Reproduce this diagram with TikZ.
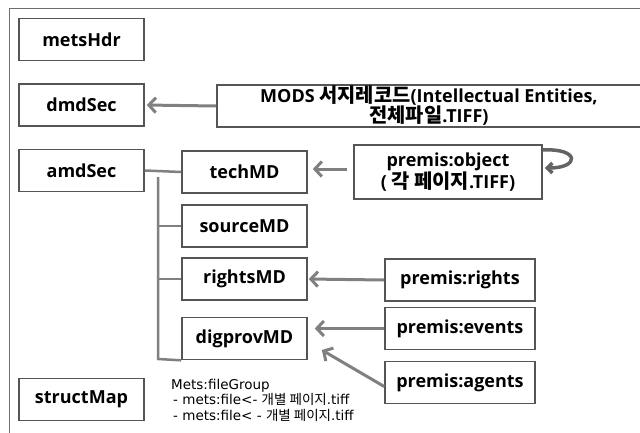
\documentclass[tikz,border=0pt]{standalone}
\usepackage{fontspec}
\setmainfont{Open Sans}
\newfontfamily\smallfont{DejaVu Sans}
\newfontfamily\cjk{Noto Sans CJK KR}
\newfontfamily\cjkb[Scale=1.1]{Noto Sans CJK KR Bold}
\usetikzlibrary{arrows.meta}
\definecolor{boxgray}{RGB}{85,85,85}
\definecolor{arrgray}{RGB}{128,128,128}
\definecolor{framegray}{RGB}{110,110,110}
\definecolor{loopgray}{RGB}{100,100,100}
\begin{document}
\begin{tikzpicture}[x=1pt,y=-1pt,
  box/.style={draw=boxgray, line width=1.6pt, minimum width=125pt, minimum height=42pt,
    inner sep=0pt, font=\fontsize{18}{21}\selectfont\bfseries, align=center},
  pbox/.style={box, minimum width=150pt},
  arr/.style={draw=arrgray, line width=3pt, -{Straight Barb[length=7pt,width=15pt]}},
  tree/.style={draw=arrgray, line width=2.5pt},
  small/.style={font=\smallfont\fontsize{13.5}{15.5}\selectfont, align=left, inner sep=0pt, anchor=base west}]
\useasboundingbox (0,0) rectangle (640,432);
\clip (0,0) rectangle (640,432);
% outer frame
\draw[framegray, line width=1pt] (9,460) -- (9,8) -- (660,8);
% left column
\node[box] (hdr) at (81.5,39.5) {metsHdr};
\node[box] (dmd) at (81.5,105) {dmdSec};
\node[box] (amd) at (81.5,170.5) {amdSec};
\node[box] (smap) at (81.5,399.5) {structMap};
% middle column
\node[box] (tech) at (244.5,172) {techMD};
\node[box] (src) at (244.5,226) {sourceMD};
\node[box] (rts) at (244.5,279) {rightsMD};
\node[box] (dig) at (244.5,338.5) {digprovMD};
% MODS box (extends past right edge)
\node[draw=boxgray, line width=1.6pt, minimum width=486pt, minimum height=42pt, inner sep=0pt] (modsbox) at (460,106) {};
\node[font=\fontsize{18}{20}\selectfont\bfseries, align=center, inner sep=0pt] (mods) at (429,106)
  {MODS {\cjkb 서지레코드}(Intellectual Entities,\\{\cjkb 전체파일}.TIFF)};
% premis boxes
\node[box, minimum width=188pt, minimum height=54pt, font=\fontsize{18}{20}\selectfont\bfseries] (pobj) at (448,172) {premis:object\\( {\cjkb 각 페이지}.TIFF)};
\node[pbox] (prts) at (460,280) {premis:rights};
\node[pbox] (pev) at (460,328.5) {premis:events};
\node[pbox] (pag) at (460,382.5) {premis:agents};
% tree
\coordinate (trunk) at (158,177);
\coordinate (trunkend) at (158,359);
\draw[tree] (amd.east) -- (tech.west);
\draw[tree] (trunk) -- (trunkend) -- (dig.south west);
\draw[tree] (trunk |- src.west) -- (src.west);
\draw[tree] (trunk |- rts.west) -- (rts.west);
% arrows
\draw[arr, shorten >=2pt] (modsbox.west) -- (dmd.east);
\draw[arr] ([xshift=-6pt,yshift=3pt]pobj.west) -- ([xshift=5pt,yshift=3pt]tech.east);
\draw[arr, shorten >=1pt] (prts.west) -- (rts.east);
\draw[arr] (pev.west) -- ([xshift=7pt]dig.east |- pev.west);
\draw[arr] ([yshift=-4pt]pag.west) -- ([xshift=14pt,yshift=-11.5pt]dig.east);
% self loop
\draw[loopgray, line width=3.5pt, -{Straight Barb[length=5pt,width=10pt]}]
  ([yshift=22pt]pobj.east) .. controls (580,148) and (580,168) .. ([xshift=2pt,yshift=4pt]pobj.east);
% file group text
\node[small] (fg) at (171,420) {Mets:fileGroup\\
  \hspace*{2pt}- mets:file<- {\cjk 개별 페이지}.tiff\\
  \hspace*{2pt}- mets:file< - {\cjk 개별 페이지}.tiff};
\end{tikzpicture}
\end{document}
